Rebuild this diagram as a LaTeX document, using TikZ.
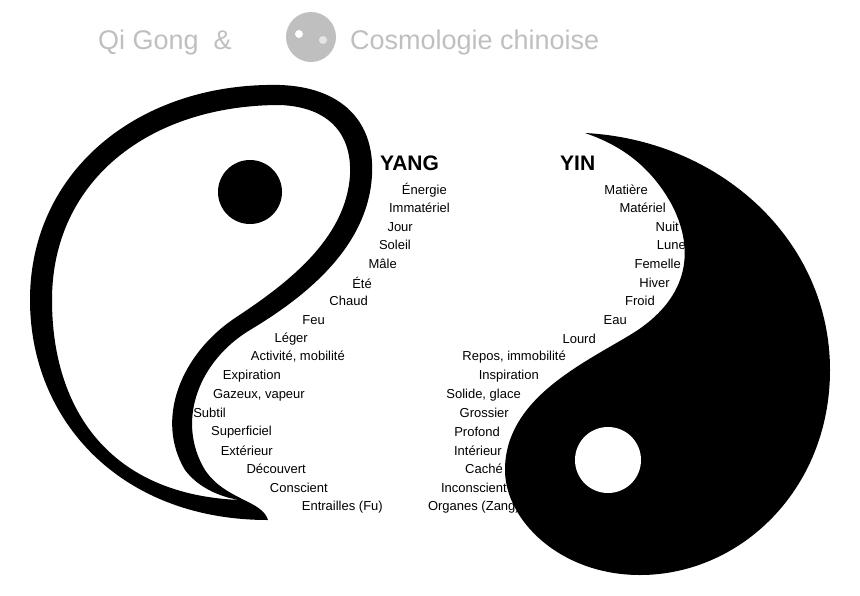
\documentclass[tikz,border=0pt]{standalone}
\usepackage{fontspec}
\setmainfont{Liberation Sans}
\usepackage{tikz}
\usetikzlibrary{positioning, calc}
\definecolor{title-gray}{gray}{.75}
\tikzset{
  word/.style={anchor=east, inner sep=0pt, font=\fontsize{13}{15}\selectfont},
  head/.style={anchor=west, inner sep=0pt, font=\fontsize{21}{24}\selectfont\bfseries},
  caption/.style={inner sep=0pt, text=title-gray, font=\fontsize{27}{30}\selectfont}
}
\begin{document}
\begin{tikzpicture}[x=1pt, y=-1pt]
						\useasboundingbox (0,0) rectangle (860,595);
						% title
						\node[caption, anchor=west] (qi) at (98,43) {Qi Gong \ \&};
						\node[caption, anchor=west] (cosmo) at (350,43) {Cosmologie chinoise};
						\coordinate (logo) at (311,37);
						\fill[title-gray] (logo) circle (25);
						\fill[white] ($(logo)+(0,-25)$) arc (90:270:12.5) arc (90:-90:12.5) arc (-90:90:25) -- cycle;
						\fill[white] ($(logo)+(-12,-3)$) circle (4);
						\fill[title-gray!40] ($(logo)+(12,3)$) circle (4);
						% yang
						\fill[black, even odd rule]
						(268,520) .. controls (120,520) and (30,420) .. (30,300)
						.. controls (30,170) and (140,82) .. (280,85)
						.. controls (340,87) and (375,120) .. (372,175)
						.. controls (368,250) and (300,300) .. (250,330)
						.. controls (200,360) and (175,420) .. (205,470)
						.. controls (225,500) and (262,500) .. (268,520) -- cycle
						(240,500) .. controls (110,495) and (52,410) .. (52,300)
						.. controls (52,180) and (150,105) .. (280,105)
						.. controls (330,107) and (352,135) .. (350,175)
						.. controls (346,240) and (285,285) .. (235,318)
						.. controls (180,355) and (155,420) .. (185,470)
						.. controls (200,490) and (225,498) .. (240,500) -- cycle;
						\fill[black] (250,192) circle (32);
						% yin
						\fill[black]
						(585,133) .. controls (720,140) and (830,240) .. (830,370)
						.. controls (830,490) and (740,575) .. (640,575)
						.. controls (560,575) and (505,520) .. (505,470)
						.. controls (505,400) and (580,365) .. (630,335)
						.. controls (680,305) and (700,260) .. (672,205)
						.. controls (650,165) and (620,145) .. (585,133) -- cycle;
						\fill[white] (608,460) circle (33);
						% words
						\node[head] (yang) at (380,163) {YANG};
						\node[head] (yin) at (560,163) {YIN};
						\foreach \x/\y/\txt in {447/190/Énergie, 450/208/Immatériel, 413/227/Jour,
						  411/245/Soleil, 397/264/Mâle, 372/283/Été, 368/301/Chaud, 325/320/Feu,
						  308/339/Léger, 345/357/{Activité, mobilité}, 281/376/Expiration,
						  305/395/{Gazeux, vapeur}, 226/413/Subtil, 272/432/Superficiel,
						  273/451/Extérieur, 306/469/Découvert, 328/488/Conscient,
						  383/507/Entrailles (Fu)}
						  \node[word] at (\x,\y) {\txt};
						\foreach \x/\y/\txt in {648/190/Matière, 666/208/Matériel, 679/227/Nuit,
						  686/245/Lune, 681/264/Femelle, 670/283/Hiver, 655/301/Froid, 627/320/Eau,
						  596/339/Lourd, 566/357/{Repos, immobilité}, 539/376/Inspiration,
						  521/395/{Solide, glace}, 509/413/Grossier, 500/432/Profond,
						  502/451/Intérieur, 503/469/Caché, 507/488/Inconscient,
						  520/507/Organes (Zang)}
						  \node[word] at (\x,\y) {\txt};
					\end{tikzpicture}
\end{document}
